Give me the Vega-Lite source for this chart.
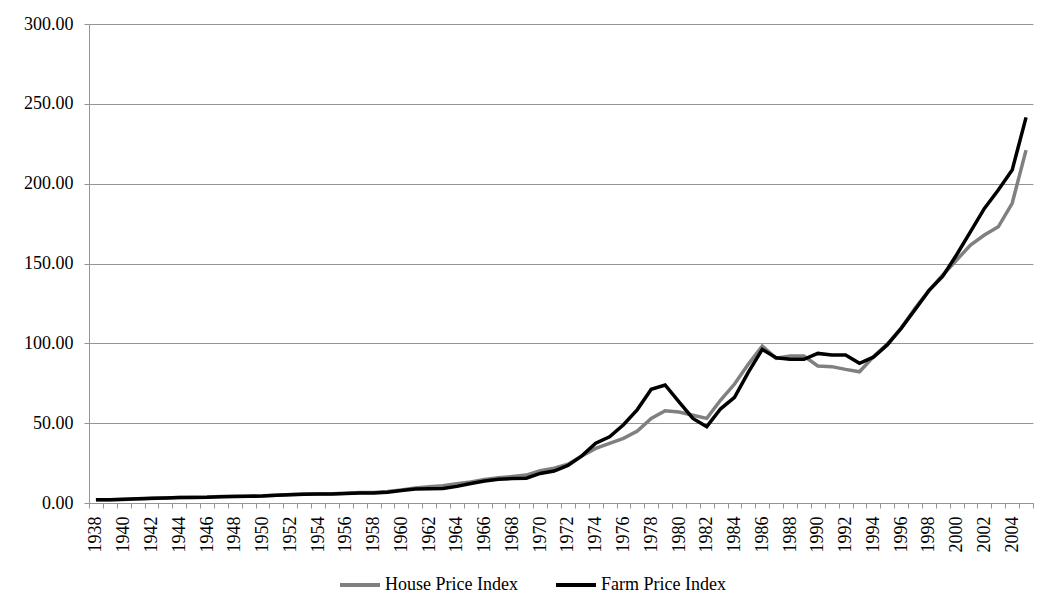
{
  "$schema": "https://vega.github.io/schema/vega-lite/v6.json",
  "width": 944,
  "height": 479,
  "autosize": "none",
  "padding": {"left": 89, "top": 24, "right": 13, "bottom": 107},
  "background": "white",
  "config": {
    "view": {"stroke": null},
    "font": "Liberation Serif",
    "axis": {
      "labelFont": "Liberation Serif",
      "labelFontSize": 18,
      "labelColor": "#000000",
      "domainColor": "#959595",
      "tickColor": "#959595",
      "gridColor": "#959595",
      "domainWidth": 1,
      "tickWidth": 1,
      "gridWidth": 1,
      "tickSize": 5,
      "title": null
    }
  },
  "data": {
    "values": [
      {"year": 1938, "house": 2.0, "farm": 2.0},
      {"year": 1939, "house": 2.0, "farm": 2.1},
      {"year": 1940, "house": 2.2, "farm": 2.3},
      {"year": 1941, "house": 2.5, "farm": 2.6},
      {"year": 1942, "house": 2.8, "farm": 2.9},
      {"year": 1943, "house": 3.1, "farm": 3.1},
      {"year": 1944, "house": 3.4, "farm": 3.4},
      {"year": 1945, "house": 3.6, "farm": 3.5},
      {"year": 1946, "house": 3.7, "farm": 3.6},
      {"year": 1947, "house": 4.0, "farm": 3.9},
      {"year": 1948, "house": 4.2, "farm": 4.1},
      {"year": 1949, "house": 4.3, "farm": 4.2},
      {"year": 1950, "house": 4.5, "farm": 4.4},
      {"year": 1951, "house": 4.9, "farm": 4.8},
      {"year": 1952, "house": 5.3, "farm": 5.2},
      {"year": 1953, "house": 5.6, "farm": 5.5},
      {"year": 1954, "house": 5.7, "farm": 5.6},
      {"year": 1955, "house": 5.8, "farm": 5.7},
      {"year": 1956, "house": 6.1, "farm": 6.0},
      {"year": 1957, "house": 6.5, "farm": 6.3},
      {"year": 1958, "house": 6.6, "farm": 6.3},
      {"year": 1959, "house": 7.2, "farm": 6.8},
      {"year": 1960, "house": 8.2, "farm": 7.8},
      {"year": 1961, "house": 9.4, "farm": 8.7},
      {"year": 1962, "house": 10.2, "farm": 9.0},
      {"year": 1963, "house": 10.8, "farm": 9.1},
      {"year": 1964, "house": 12.0, "farm": 10.4},
      {"year": 1965, "house": 13.2, "farm": 12.2},
      {"year": 1966, "house": 14.8, "farm": 13.8},
      {"year": 1967, "house": 15.8, "farm": 14.8},
      {"year": 1968, "house": 16.6, "farm": 15.3},
      {"year": 1969, "house": 17.5, "farm": 15.5},
      {"year": 1970, "house": 20.3, "farm": 18.5},
      {"year": 1971, "house": 21.8, "farm": 20.0},
      {"year": 1972, "house": 24.3, "farm": 23.5},
      {"year": 1973, "house": 29.5, "farm": 29.5},
      {"year": 1974, "house": 34.2, "farm": 37.4},
      {"year": 1975, "house": 37.4, "farm": 41.5},
      {"year": 1976, "house": 40.5, "farm": 49.0},
      {"year": 1977, "house": 45.0, "farm": 58.5},
      {"year": 1978, "house": 53.0, "farm": 71.2},
      {"year": 1979, "house": 57.8, "farm": 73.9},
      {"year": 1980, "house": 57.0, "farm": 63.4},
      {"year": 1981, "house": 55.0, "farm": 53.0},
      {"year": 1982, "house": 53.0, "farm": 47.8},
      {"year": 1983, "house": 64.5, "farm": 59.0},
      {"year": 1984, "house": 74.5, "farm": 66.2},
      {"year": 1985, "house": 87.0, "farm": 82.0},
      {"year": 1986, "house": 98.3, "farm": 96.2},
      {"year": 1987, "house": 90.6, "farm": 91.0},
      {"year": 1988, "house": 92.0, "farm": 90.0},
      {"year": 1989, "house": 92.0, "farm": 90.0},
      {"year": 1990, "house": 85.8, "farm": 93.7},
      {"year": 1991, "house": 85.4, "farm": 92.7},
      {"year": 1992, "house": 83.7, "farm": 92.7},
      {"year": 1993, "house": 82.2, "farm": 87.5},
      {"year": 1994, "house": 91.6, "farm": 91.3},
      {"year": 1995, "house": 99.5, "farm": 99.0},
      {"year": 1996, "house": 109.4, "farm": 109.4},
      {"year": 1997, "house": 121.9, "farm": 121.0},
      {"year": 1998, "house": 133.0, "farm": 133.0},
      {"year": 1999, "house": 142.8, "farm": 142.0},
      {"year": 2000, "house": 152.2, "farm": 155.5},
      {"year": 2001, "house": 161.6, "farm": 170.0},
      {"year": 2002, "house": 167.8, "farm": 184.5},
      {"year": 2003, "house": 173.0, "farm": 196.0},
      {"year": 2004, "house": 187.7, "farm": 208.5},
      {"year": 2005, "house": 221.0, "farm": 241.5}
    ]
  },
  "encoding": {
    "x": {
      "field": "year",
      "type": "ordinal",
      "scale": {"type": "band", "paddingInner": 0, "paddingOuter": 0},
      "axis": {
        "tickBand": "extent",
        "labelAngle": 270,
        "labelAlign": "right",
        "labelBaseline": "middle",
        "labelPadding": 8,
        "labelFontSize": 18,
        "labelFont": "Liberation Serif",
        "labelOverlap": false,
        "labelExpr": "datum.value % 2 == 0 ? datum.label : ''",
        "grid": false
      }
    }
  },
  "layer": [
    {
      "mark": {"type": "line", "strokeWidth": 3.5},
      "encoding": {
        "y": {
          "field": "house",
          "type": "quantitative",
          "scale": {"domain": [0, 300], "nice": false, "zero": true},
          "axis": {
            "values": [0, 50, 100, 150, 200, 250, 300],
            "format": ".2f",
            "grid": true,
            "labelPadding": 11,
            "title": null
          }
        },
        "color": {
          "datum": "House Price Index",
          "scale": {"domain": ["House Price Index", "Farm Price Index"], "range": ["#808080", "#000000"]},
          "legend": {
            "orient": "none",
            "legendX": 249,
            "legendY": 539,
            "direction": "horizontal",
            "title": null,
            "symbolType": "stroke",
            "symbolSize": 1600,
            "symbolStrokeWidth": 4,
            "labelFont": "Liberation Serif",
            "labelFontSize": 18,
            "labelColor": "#000000",
            "labelOffset": 3,
            "columnPadding": 30
          }
        }
      }
    },
    {
      "mark": {"type": "line", "strokeWidth": 3.5},
      "encoding": {
        "y": {"field": "farm", "type": "quantitative"},
        "color": {"datum": "Farm Price Index"}
      }
    }
  ]
}
